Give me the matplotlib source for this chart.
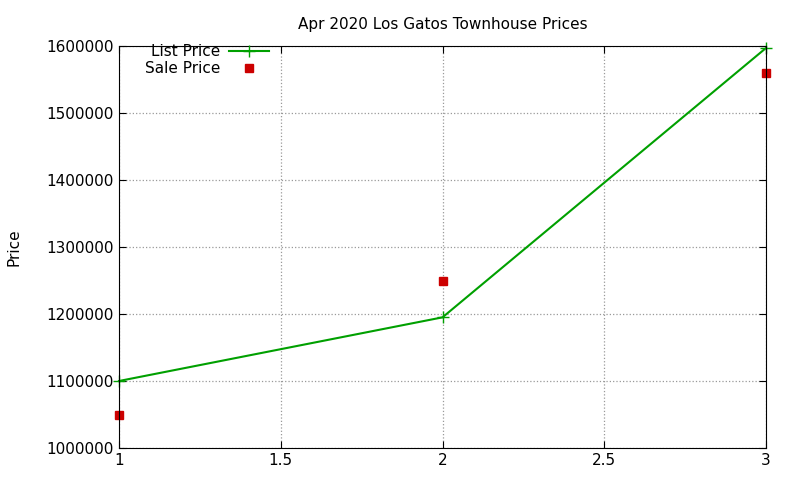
import matplotlib
matplotlib.use('Agg')
import matplotlib.pyplot as plt

x = [1, 2, 3]
list_price = [1100000, 1195000, 1597000]
sale_price = [1050000, 1249000, 1559000]

fig = plt.figure(figsize=(8, 4.8), dpi=100)
ax = fig.add_axes([119/800, 1 - 448/480, (766-119)/800, (448-46)/480])

ax.plot(x, list_price, color='#00a000', marker='+', markersize=8, linewidth=1.5,
        label='List Price', clip_on=False)
ax.plot(x, sale_price, color='#cc0000', marker='s', markersize=6, linestyle='none',
        label='Sale Price', clip_on=False)

ax.set_xlim(1, 3)
ax.set_ylim(1000000, 1600000)
ax.set_xticks([1, 1.5, 2, 2.5, 3])
ax.set_xticklabels(['1', '1.5', '2', '2.5', '3'])
ax.set_yticks(range(1000000, 1600001, 100000))
ax.set_yticklabels([str(v) for v in range(1000000, 1600001, 100000)])
ax.tick_params(direction='in', labelsize=11, top=True, right=True, length=5)
ax.grid(True, color='#999999', linestyle=':', linewidth=0.9)
ax.set_title('Apr 2020 Los Gatos Townhouse Prices', fontsize=11, pad=12)
ax.set_ylabel('Price', fontsize=11, labelpad=18)

leg = ax.legend(loc='upper left', frameon=False, fontsize=11, markerfirst=False,
                handlelength=2.6, handletextpad=0.6, labelspacing=0.15,
                borderaxespad=0.0, bbox_to_anchor=(0.03, 1.02))
for t in leg.get_texts():
    t.set_ha('right')

fig.savefig('out.png')
